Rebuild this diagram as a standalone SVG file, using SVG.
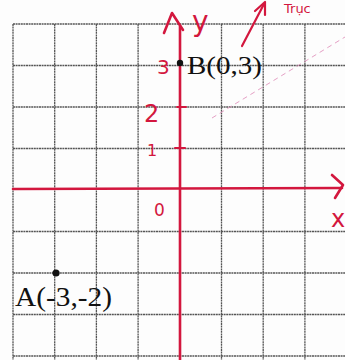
<svg xmlns="http://www.w3.org/2000/svg" width="345" height="360" viewBox="0 0 345 360">
<style>
.grid line{stroke:#555;stroke-width:1.3;stroke-dasharray:2 0.6}
.red{stroke:#d3173e;fill:none;stroke-linecap:round;stroke-linejoin:round}
.hand{fill:#d3173e;font-family:"DejaVu Sans",sans-serif}
.lbl{fill:#111;font-family:"Liberation Serif",serif}
</style>
<rect width="345" height="360" fill="#fdfdfd"/>
<g id="grid" class="grid">
<line x1="13" y1="24" x2="13" y2="360"/>
<line x1="54.7" y1="24" x2="54.7" y2="360"/>
<line x1="96.4" y1="24" x2="96.4" y2="360"/>
<line x1="138.1" y1="24" x2="138.1" y2="360"/>
<line x1="221.5" y1="24" x2="221.5" y2="360"/>
<line x1="263.2" y1="24" x2="263.2" y2="360"/>
<line x1="304.9" y1="24" x2="304.9" y2="360"/>
<line x1="13" y1="24" x2="345" y2="24"/>
<line x1="13" y1="65.5" x2="345" y2="65.5"/>
<line x1="13" y1="107" x2="345" y2="107"/>
<line x1="13" y1="148.5" x2="345" y2="148.5"/>
<line x1="13" y1="231.5" x2="345" y2="231.5"/>
<line x1="13" y1="273" x2="345" y2="273"/>
<line x1="13" y1="314.5" x2="345" y2="314.5"/>
<line x1="13" y1="356" x2="345" y2="356"/>
</g>
<line x1="212" y1="118" x2="345" y2="37" stroke="#e08ab8" stroke-width="1" stroke-dasharray="5 4" opacity="0.8"/>
<g id="connectors">
<line class="red" x1="180" y1="26" x2="180" y2="360" stroke-width="2.6"/>
<line class="red" x1="13" y1="189" x2="342" y2="188" stroke-width="2.6"/>
<polyline class="red" points="164,33 172,13 183,30" stroke-width="2.6"/>
<polyline class="red" points="332,175 343,185 335,198" stroke-width="2.6"/>
<line class="red" x1="177" y1="107" x2="186" y2="107" stroke-width="2"/>
<line class="red" x1="175" y1="148" x2="185" y2="148" stroke-width="2"/>
<line class="red" x1="242" y1="46" x2="264" y2="4" stroke-width="2.2"/>
<polyline class="red" points="255,11 265,2 265,15" stroke-width="2.2"/>
</g>
<g id="axis-labels">
<text class="hand" x="192" y="31" font-size="28">y</text>
<text class="hand" x="331" y="227" font-size="24">x</text>
<text class="hand" x="157" y="74" font-size="20">3</text>
<text class="hand" x="144" y="122" font-size="24">2</text>
<text class="hand" x="147" y="156" font-size="16">1</text>
<text class="hand" x="154" y="216" font-size="17">0</text>
<text class="hand" x="284" y="13" font-size="13">Trục</text>
</g>
<g id="pointB">
<circle cx="180" cy="63" r="3.2" fill="#111"/>
<text class="lbl" x="187" y="74" font-size="26" textLength="75" lengthAdjust="spacingAndGlyphs">B(0,3)</text>
</g>
<g id="pointA">
<circle cx="56" cy="273" r="3.6" fill="#111"/>
<text class="lbl" x="15" y="306" font-size="27" textLength="97" lengthAdjust="spacingAndGlyphs">A(-3,-2)</text>
</g>
</svg>
